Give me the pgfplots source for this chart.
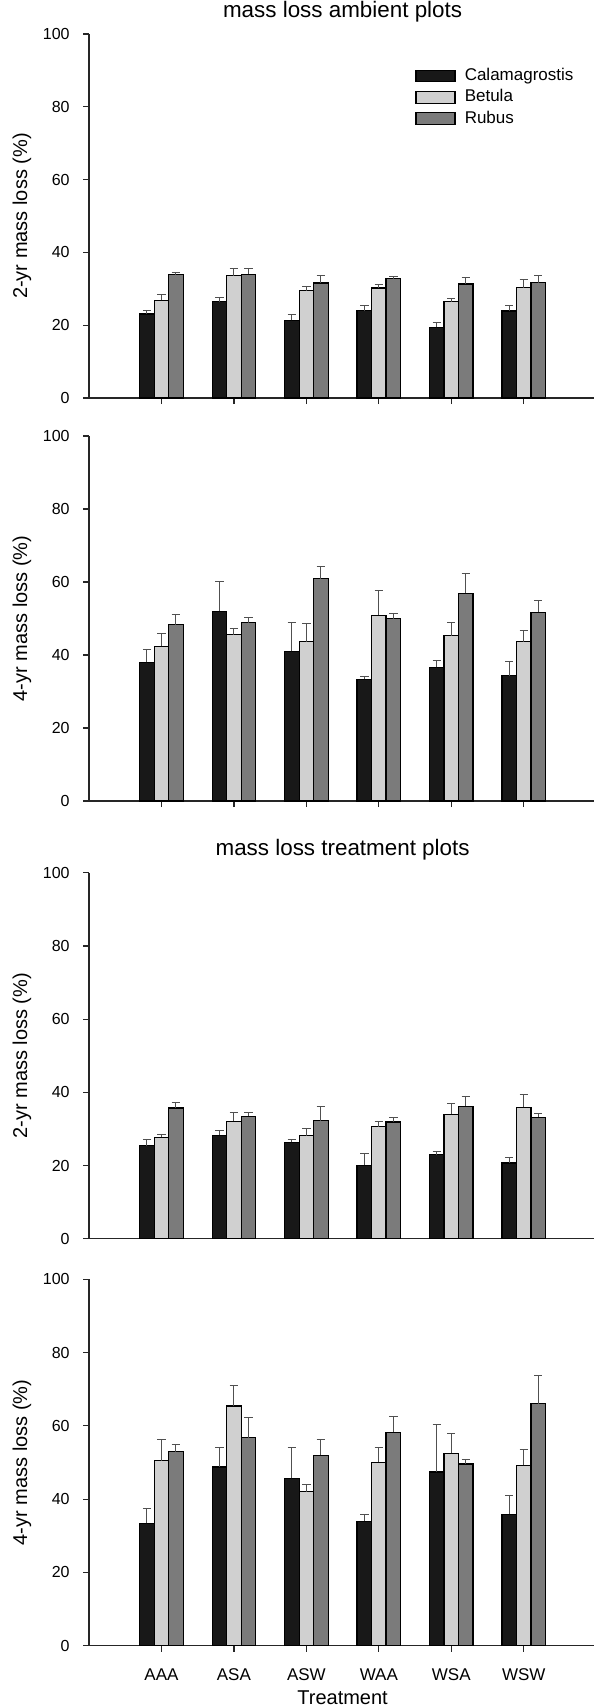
\documentclass[border=0pt]{standalone}
\usepackage{fontspec}
\setmainfont{Liberation Sans}
\usepackage{pgfplots}
\pgfplotsset{compat=1.18}

\definecolor{calcol}{HTML}{181818}
\definecolor{betcol}{HTML}{D0D0D0}
\definecolor{rubcol}{HTML}{7B7B7B}
\definecolor{errcol}{HTML}{505050}

% bars sit at category-0.2 / category / category+0.2 (width 0.2 units)
\pgfplotsset{
    panel/.style={
        scale only axis,
        width=253.6pt,
        xmin=0, xmax=7,
        ymin=0, ymax=100,
        ytick={0,20,...,100},
        xtick={1,2,3,4,5,6},
        xticklabels={},
        axis lines*=left,
        axis line style={line width=0.6pt, black!85},
        tick style={line width=0.6pt, black!85},
        tick align=outside,
        major tick length=3pt,
        /pgf/number format/assume math mode=true,
        yticklabel style={font=\fontsize{8}{9}\selectfont, inner sep=0pt, anchor=east, xshift=-6.5pt},
        xticklabel style={font=\fontsize{8.5}{10}\selectfont, inner sep=0pt, anchor=base, yshift=-14.6pt},
        ylabel style={font=\fontsize{11.3}{13}\selectfont},
        every axis y label/.style={at={(axis description cs:-0.1321,0.5)}, rotate=90, anchor=center},
        title style={font=\fontsize{11.2}{13}\selectfont, anchor=base, at={(axis description cs:0.5,1)}, yshift=2.5pt},
        legend image code/.code={\draw[#1, draw=black, line width=0.6pt] (0pt,-2.9pt) rectangle (19.5pt,2.9pt);},
    },
    bars/.style={ybar, bar width=7.25pt, bar shift=0pt, fill=#1, draw=black, line width=0.6pt,
        error bars/.cd, y dir=plus, y explicit,
        error bar style={line width=0.5pt, errcol},
        error mark options={line width=0.5pt, errcol, mark size=2.1pt, rotate=90}},
}

\begin{document}
\begin{tikzpicture}
\useasboundingbox (0,0) rectangle (297pt,-854pt);

% ambient plots, 2 years
\begin{axis}[panel, height=182pt, at={(44.5pt,-199pt)}, anchor=south west,
    title={mass loss ambient plots},
    ylabel={2-yr mass loss (\%)},
    legend cell align=left,
    legend style={draw=none, fill=none, inner sep=0pt, row sep=2.15pt, column sep=4.6pt,
        font=\fontsize{8.5}{10}\selectfont,
        nodes={inner sep=0pt, text height=6.5pt, text depth=2pt},
        at={(axis description cs:0.6427,0.909)}, anchor=north west}]
% Calamagrostis
\addplot[bars=calcol] coordinates {(0.8,23.1) +- (0,0.9) (1.8,26.5) +- (0,1.2) (2.8,21.3) +- (0,1.7)
    (3.8,24.0) +- (0,1.3) (4.8,19.4) +- (0,1.4) (5.8,23.9) +- (0,1.4)};
% Betula
\addplot[bars=betcol] coordinates {(1,26.8) +- (0,1.5) (2,33.6) +- (0,2.1) (3,29.5) +- (0,1.0)
    (4,30.2) +- (0,1.0) (5,26.5) +- (0,0.9) (6,30.3) +- (0,2.2)};
% Rubus
\addplot[bars=rubcol] coordinates {(1.2,33.9) +- (0,0.7) (2.2,34.0) +- (0,1.6) (3.2,31.6) +- (0,2.1)
    (4.2,32.8) +- (0,0.6) (5.2,31.3) +- (0,1.7) (6.2,31.7) +- (0,1.9)};
\legend{Calamagrostis, Betula, Rubus}
\end{axis}

% ambient plots, 4 years
\begin{axis}[panel, height=182.5pt, at={(44.5pt,-400.5pt)}, anchor=south west,
    ylabel={4-yr mass loss (\%)}]
\addplot[bars=calcol] coordinates {(0.8,38.0) +- (0,3.6) (1.8,52.0) +- (0,8.2) (2.8,41.0) +- (0,8.0)
    (3.8,33.4) +- (0,0.8) (4.8,36.6) +- (0,1.8) (5.8,34.3) +- (0,3.9)};
\addplot[bars=betcol] coordinates {(1,42.4) +- (0,3.6) (2,45.6) +- (0,1.7) (3,43.6) +- (0,5.0)
    (4,50.9) +- (0,6.9) (5,45.3) +- (0,3.6) (6,43.6) +- (0,3.0)};
\addplot[bars=rubcol] coordinates {(1.2,48.3) +- (0,2.7) (2.2,48.8) +- (0,1.6) (3.2,60.9) +- (0,3.4)
    (4.2,50.0) +- (0,1.3) (5.2,56.9) +- (0,5.5) (6.2,51.7) +- (0,3.1)};
\end{axis}

% treatment plots, 2 years
\begin{axis}[panel, height=183pt, at={(44.5pt,-619.35pt)}, anchor=south west,
    title={mass loss treatment plots},
    ylabel={2-yr mass loss (\%)},
    xtick=\empty]
\addplot[bars=calcol] coordinates {(0.8,25.4) +- (0,1.6) (1.8,28.3) +- (0,1.4) (2.8,26.3) +- (0,0.7)
    (3.8,20.1) +- (0,3.2) (4.8,23.0) +- (0,0.9) (5.8,20.7) +- (0,1.5)};
\addplot[bars=betcol] coordinates {(1,27.7) +- (0,0.8) (2,32.1) +- (0,2.5) (3,28.2) +- (0,1.8)
    (4,30.6) +- (0,1.5) (5,34.0) +- (0,3.0) (6,35.9) +- (0,3.5)};
\addplot[bars=rubcol] coordinates {(1.2,35.7) +- (0,1.4) (2.2,33.5) +- (0,1.1) (3.2,32.3) +- (0,3.7)
    (4.2,31.9) +- (0,1.3) (5.2,36.2) +- (0,2.6) (6.2,33.2) +- (0,1.0)};
\end{axis}

% treatment plots, 4 years
\begin{axis}[panel, height=183.2pt, at={(44.5pt,-822.85pt)}, anchor=south west,
    ylabel={4-yr mass loss (\%)},
    xticklabels={AAA, ASA, ASW, WAA, WSA, WSW},
    xlabel={Treatment},
    xlabel style={font=\fontsize{11.2}{13}\selectfont},
    every axis x label/.style={at={(axis description cs:0.5,-0.1427)}, anchor=center}]
\addplot[bars=calcol] coordinates {(0.8,33.4) +- (0,4.0) (1.8,48.8) +- (0,5.2) (2.8,45.7) +- (0,8.4)
    (3.8,34.0) +- (0,1.9) (4.8,47.4) +- (0,13.0) (5.8,35.9) +- (0,5.0)};
\addplot[bars=betcol] coordinates {(1,50.5) +- (0,5.9) (2,65.4) +- (0,5.5) (3,42.0) +- (0,1.9)
    (4,50.1) +- (0,4.1) (5,52.5) +- (0,5.4) (6,49.2) +- (0,4.3)};
\addplot[bars=rubcol] coordinates {(1.2,53.0) +- (0,2.0) (2.2,56.8) +- (0,5.4) (3.2,52.0) +- (0,4.4)
    (4.2,58.3) +- (0,4.2) (5.2,49.6) +- (0,1.2) (6.2,66.0) +- (0,7.8)};
\end{axis}
\end{tikzpicture}
\end{document}
